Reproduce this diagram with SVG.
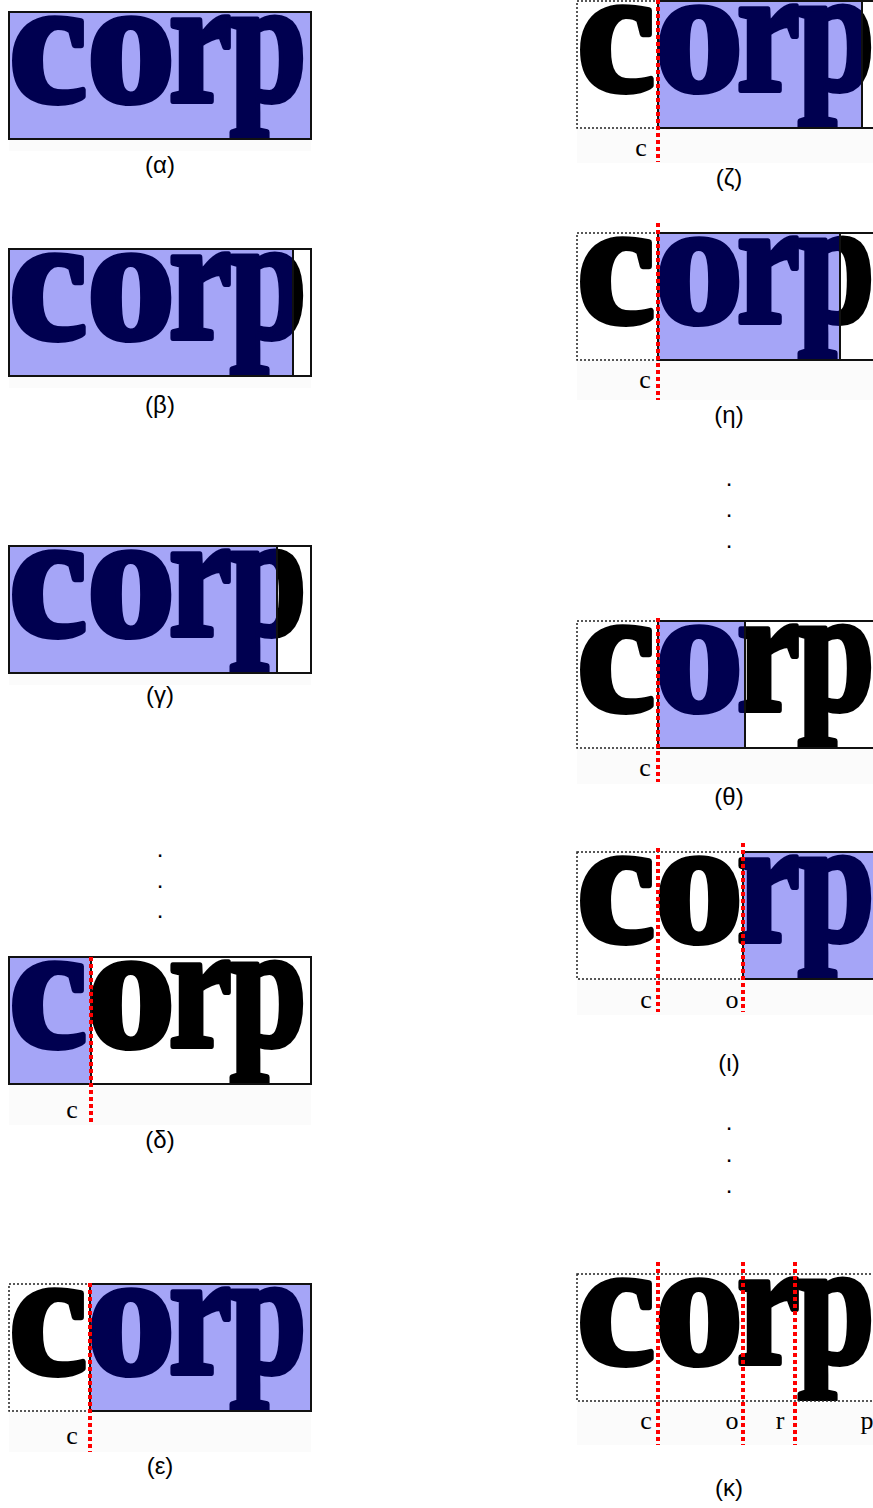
<svg xmlns="http://www.w3.org/2000/svg" width="873" height="1508" viewBox="0 0 873 1508">
<style>
.bg{fill:#fff}
.band{fill:#fbfbfb}
.lav{fill:#a5a5f7}
.blk{fill:#000;stroke:#000}
.blu{fill:#000050;stroke:#000050}
.solid{fill:none;stroke:#111;stroke-width:2}
.dot{fill:none;stroke:#222;stroke-width:1.5;stroke-dasharray:2 2}
.red{stroke:#f00;stroke-width:4;stroke-dasharray:4 3}
.cap{font-family:"Liberation Sans",Arial,sans-serif;font-size:24px;text-anchor:middle;fill:#000}
.lbl{font-family:"Liberation Serif","Times New Roman",serif;font-size:26px;text-anchor:middle;fill:#000}
</style>
<defs>
<g id="w" font-family="'Liberation Serif',serif" font-weight="bold" font-size="176" stroke-width="6" stroke-linejoin="round">
<text transform="translate(0,89)">c</text>
<text transform="translate(78,89)">o</text>
<text transform="translate(160,89) scale(0.8,1)">r</text>
<text transform="translate(221,89) scale(0.78,1)">p</text>
</g>
<clipPath id="cb"><rect width="302" height="127"/></clipPath>
<clipPath id="c-beta"><rect width="284" height="127"/></clipPath>
<clipPath id="c-gamma"><rect width="268" height="127"/></clipPath>
<clipPath id="c-delta"><rect width="82" height="127"/></clipPath>
<clipPath id="c-eps"><rect x="81" width="221" height="127"/></clipPath>
<clipPath id="c-zeta"><rect x="81" width="204" height="127"/></clipPath>
<clipPath id="c-eta"><rect x="81" width="182" height="127"/></clipPath>
<clipPath id="c-theta"><rect x="81" width="87" height="127"/></clipPath>
<clipPath id="c-iota"><rect x="166" width="136" height="127"/></clipPath>
</defs>

<g id="panel-alpha" transform="translate(9,12)">
<rect class="band" y="127" width="302" height="12"/>
<rect class="lav" width="302" height="127"/>
<use href="#w" class="blu" clip-path="url(#cb)"/>
<rect class="solid" width="302" height="127"/>
<text class="cap" x="151" y="161">(α)</text>
</g>

<g id="panel-beta" transform="translate(9,249)">
<rect class="band" y="127" width="302" height="12"/>
<rect class="bg" width="302" height="127"/>
<use href="#w" class="blk" clip-path="url(#cb)"/>
<rect class="lav" width="284" height="127"/>
<use href="#w" class="blu" clip-path="url(#c-beta)"/>
<rect class="solid" width="302" height="127"/>
<line class="solid" x1="284" y1="0" x2="284" y2="127"/>
<text class="cap" x="151" y="164">(β)</text>
</g>

<g id="panel-gamma" transform="translate(9,546)">
<rect class="band" y="127" width="302" height="12"/>
<rect class="bg" width="302" height="127"/>
<use href="#w" class="blk" clip-path="url(#cb)"/>
<rect class="lav" width="268" height="127"/>
<use href="#w" class="blu" clip-path="url(#c-gamma)"/>
<rect class="solid" width="302" height="127"/>
<line class="solid" x1="268" y1="0" x2="268" y2="127"/>
<text class="cap" x="151" y="157">(γ)</text>
</g>

<g id="dots-left">
<text class="cap" x="160" y="857">.</text>
<text class="cap" x="160" y="888">.</text>
<text class="cap" x="160" y="918">.</text>
</g>

<g id="panel-delta" transform="translate(9,957)">
<rect class="band" y="127" width="302" height="41"/>
<rect class="bg" width="302" height="127"/>
<use href="#w" class="blk" clip-path="url(#cb)"/>
<rect class="lav" width="82" height="127"/>
<use href="#w" class="blu" clip-path="url(#c-delta)"/>
<rect class="solid" width="302" height="127"/>
<line class="solid" x1="82" y1="0" x2="82" y2="127"/>
<line class="red" x1="82" y1="0" x2="82" y2="168"/>
<text class="lbl" x="63" y="161">c</text>
<text class="cap" x="151" y="191">(δ)</text>
</g>

<g id="panel-epsilon" transform="translate(9,1284)">
<rect class="band" y="127" width="302" height="41"/>
<rect class="bg" width="302" height="127"/>
<use href="#w" class="blk" clip-path="url(#cb)"/>
<rect class="lav" x="81" width="221" height="127"/>
<use href="#w" class="blu" clip-path="url(#c-eps)"/>
<rect class="dot" width="81" height="127"/>
<rect class="solid" x="81" width="221" height="127"/>
<line class="red" x1="81" y1="-1" x2="81" y2="168"/>
<text class="lbl" x="63" y="160">c</text>
<text class="cap" x="151" y="190">(ε)</text>
</g>

<g id="panel-zeta" transform="translate(577,1)">
<rect class="band" y="127" width="302" height="35"/>
<rect class="bg" width="302" height="127"/>
<use href="#w" class="blk" clip-path="url(#cb)"/>
<rect class="lav" x="81" width="204" height="127"/>
<use href="#w" class="blu" clip-path="url(#c-zeta)"/>
<rect class="dot" width="81" height="127"/>
<rect class="solid" x="81" width="221" height="127"/>
<line class="solid" x1="285" y1="0" x2="285" y2="127"/>
<line class="red" x1="81" y1="-1" x2="81" y2="161"/>
<text class="lbl" x="64" y="155">c</text>
<text class="cap" x="152" y="185">(ζ)</text>
</g>

<g id="panel-eta" transform="translate(577,233)">
<rect class="band" y="127" width="302" height="40"/>
<rect class="bg" width="302" height="127"/>
<use href="#w" class="blk" clip-path="url(#cb)"/>
<rect class="lav" x="81" width="182" height="127"/>
<use href="#w" class="blu" clip-path="url(#c-eta)"/>
<rect class="dot" width="81" height="127"/>
<rect class="solid" x="81" width="221" height="127"/>
<line class="solid" x1="263" y1="0" x2="263" y2="127"/>
<line class="red" x1="81" y1="-10" x2="81" y2="167"/>
<text class="lbl" x="68" y="155">c</text>
<text class="cap" x="152" y="190">(η)</text>
</g>

<g id="dots-right-1">
<text class="cap" x="729" y="486">.</text>
<text class="cap" x="729" y="517">.</text>
<text class="cap" x="729" y="548">.</text>
</g>

<g id="panel-theta" transform="translate(577,621)">
<rect class="band" y="127" width="302" height="36"/>
<rect class="bg" width="302" height="127"/>
<use href="#w" class="blk" clip-path="url(#cb)"/>
<rect class="lav" x="81" width="87" height="127"/>
<use href="#w" class="blu" clip-path="url(#c-theta)"/>
<rect class="dot" width="81" height="127"/>
<rect class="solid" x="81" width="221" height="127"/>
<line class="solid" x1="168" y1="0" x2="168" y2="127"/>
<line class="red" x1="81" y1="-3" x2="81" y2="161"/>
<text class="lbl" x="68" y="155">c</text>
<text class="cap" x="152" y="184">(θ)</text>
</g>

<g id="panel-iota" transform="translate(577,852)">
<rect class="band" y="127" width="302" height="36"/>
<rect class="bg" width="302" height="127"/>
<use href="#w" class="blk" clip-path="url(#cb)"/>
<rect class="lav" x="166" width="136" height="127"/>
<use href="#w" class="blu" clip-path="url(#c-iota)"/>
<rect class="dot" width="166" height="127"/>
<rect class="solid" x="166" width="136" height="127"/>
<line class="red" x1="81" y1="-4" x2="81" y2="160"/>
<line class="red" x1="166" y1="-9" x2="166" y2="160"/>
<text class="lbl" x="69" y="156">c</text>
<text class="lbl" x="155" y="156">o</text>
<text class="cap" x="152" y="219">(ι)</text>
</g>

<g id="dots-right-2">
<text class="cap" x="729" y="1130">.</text>
<text class="cap" x="729" y="1162">.</text>
<text class="cap" x="729" y="1193">.</text>
</g>

<g id="panel-kappa" transform="translate(577,1274)">
<rect class="band" y="127" width="302" height="44"/>
<rect class="bg" width="302" height="127"/>
<use href="#w" class="blk" clip-path="url(#cb)"/>
<rect class="dot" width="302" height="127"/>
<line class="red" x1="81" y1="-12" x2="81" y2="171"/>
<line class="red" x1="166" y1="-12" x2="166" y2="171"/>
<line class="red" x1="218" y1="-12" x2="218" y2="171"/>
<text class="lbl" x="69" y="155">c</text>
<text class="lbl" x="155" y="155">o</text>
<text class="lbl" x="203" y="155">r</text>
<text class="lbl" x="290" y="155">p</text>
<text class="cap" x="152" y="222">(κ)</text>
</g>
</svg>
